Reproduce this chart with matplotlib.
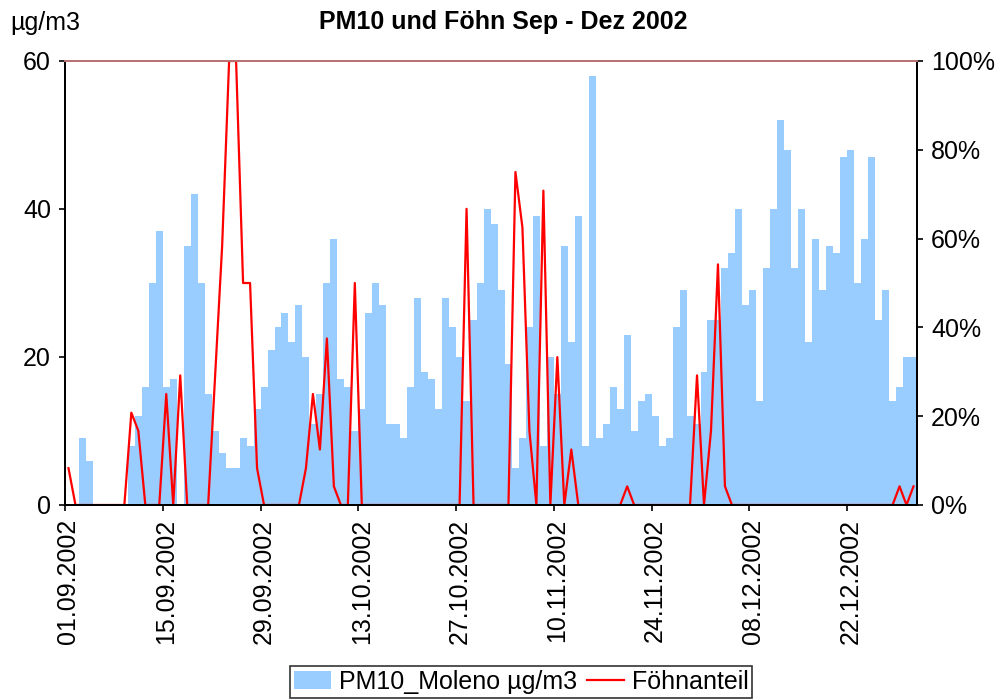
import matplotlib.pyplot as plt
import matplotlib.ticker as mticker
import numpy as np

plt.rcParams['font.family'] = ['Liberation Sans', 'DejaVu Sans']

# Tageswerte 01.09.2002 - 31.12.2002 (122 Tage), 0 = kein Messwert
pm10 = [0, 0, 9, 6, 0, 0, 0, 0, 0, 8, 12, 16, 30, 37, 16, 17, 0, 35, 42, 30,
        15, 10, 7, 5, 5, 9, 8, 13, 16, 21, 24, 26, 22, 27, 20, 11, 15, 30, 36, 17,
        16, 10, 13, 26, 30, 27, 11, 11, 9, 16, 28, 18, 17, 13, 28, 24, 20, 14, 25, 30,
        40, 38, 29, 19, 5, 9, 24, 39, 8, 20, 15, 35, 22, 39, 8, 58, 9, 11, 16, 13,
        23, 10, 14, 15, 12, 8, 9, 24, 29, 12, 11, 18, 25, 25, 32, 34, 40, 27, 29, 14,
        32, 40, 52, 48, 32, 40, 22, 36, 29, 35, 34, 47, 48, 30, 36, 47, 25, 29, 14, 16,
        20, 20]

# Föhnanteil in Prozent
foehn = [8.3, 0, 0, 0, 0, 0, 0, 0, 0, 20.8, 16.7, 0, 0, 0, 25, 0, 29.2, 0, 0, 0,
         0, 29.2, 58.3, 100, 100, 50, 50, 8.3, 0, 0, 0, 0, 0, 0, 8.3, 25, 12.5, 37.5, 4.2, 0,
         0, 50, 0, 0, 0, 0, 0, 0, 0, 0, 0, 0, 0, 0, 0, 0, 0, 66.7, 0, 0,
         0, 0, 0, 0, 75, 62.5, 16.7, 0, 70.8, 0, 33.3, 0, 12.5, 0, 0, 0, 0, 0, 0, 0,
         4.2, 0, 0, 0, 0, 0, 0, 0, 0, 0, 29.2, 0, 16.7, 54.2, 4.2, 0, 0, 0, 0, 0,
         0, 0, 0, 0, 0, 0, 0, 0, 0, 0, 0, 0, 0, 0, 0, 0, 0, 0, 0, 4.2,
         0, 4.2]

date_labels = ['01.09.2002', '15.09.2002', '29.09.2002', '13.10.2002', '27.10.2002',
               '10.11.2002', '24.11.2002', '08.12.2002', '22.12.2002']

days = np.arange(len(pm10))

fig = plt.figure(figsize=(10.02, 7.0), dpi=100)
ax = fig.add_axes([65 / 1002, 1 - 505 / 700, (917 - 65) / 1002, (505 - 61) / 700])
ax2 = ax.twinx()

bars = ax.bar(days, pm10, width=1.0, color='#99ccff', linewidth=0, label='PM10_Moleno µg/m3')
line, = ax2.plot(days, np.array(foehn) / 100, color='#ff0000', linewidth=1.6, label='Föhnanteil')

ax.set_xlim(-0.5, len(pm10) - 0.5)
ax.set_ylim(0, 60)
ax2.set_ylim(0, 1)

ax.set_yticks([0, 20, 40, 60])
ax2.set_yticks([0, 0.2, 0.4, 0.6, 0.8, 1.0])
ax2.yaxis.set_major_formatter(mticker.PercentFormatter(1.0, decimals=0))

# Striche an den Kategoriegrenzen, Beschriftung in der Tagesmitte
ax.set_xticks(np.arange(0, len(pm10), 14) - 0.5)
ax.set_xticklabels([])
ax.set_xticks(np.arange(0, len(pm10), 14), date_labels, minor=True, rotation=90)
ax.tick_params(axis='x', which='major', direction='out', length=4, width=1.2, color='black')
ax.tick_params(axis='x', which='minor', length=0, pad=10, labelsize=18)
ax.tick_params(axis='y', direction='out', length=4, width=1.2, labelsize=18, pad=6)
ax2.tick_params(axis='y', direction='out', length=4, width=1.2, labelsize=18, pad=6)

for a in (ax, ax2):
    a.spines['left'].set_linewidth(1.4)
    a.spines['right'].set_linewidth(1.4)
    a.spines['bottom'].set_linewidth(1.4)
    a.spines['top'].set_color('#b87272')
    a.spines['top'].set_linewidth(1.4)

fig.text(10 / 1002, 1 - 23 / 700, 'µg/m3', fontsize=18, ha='left', va='center')
fig.text(503 / 1002, 1 - 22 / 700, 'PM10 und Föhn Sep - Dez 2002', fontsize=18,
         fontweight='bold', ha='center', va='center')

leg = fig.legend([bars, line], ['PM10_Moleno µg/m3', 'Föhnanteil'], loc='lower center',
                 bbox_to_anchor=(521 / 1002, 0.0), ncol=2, fontsize=18, frameon=True,
                 fancybox=False, edgecolor='black', borderpad=0.15, handlelength=1.5,
                 handletextpad=0.3, columnspacing=0.4, borderaxespad=0.1)
leg.get_frame().set_linewidth(1.2)

fig.savefig('out.png', dpi=100)
